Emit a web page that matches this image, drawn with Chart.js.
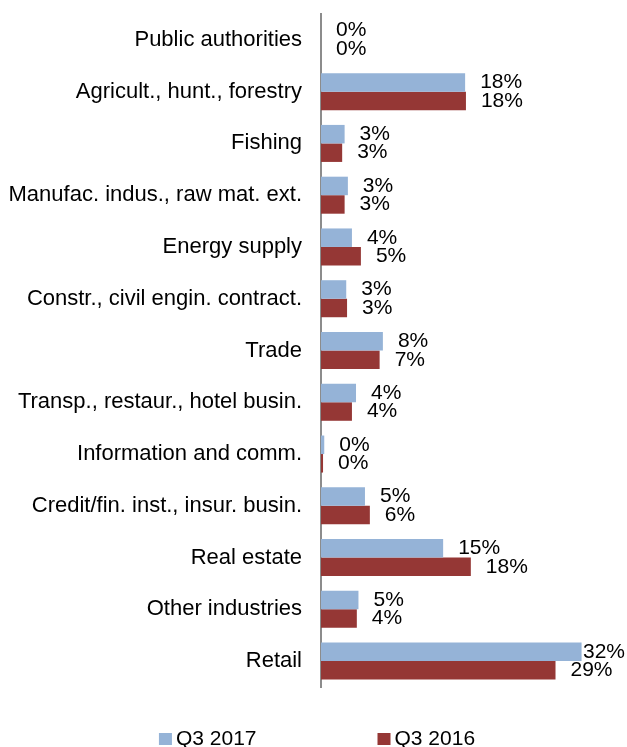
<!DOCTYPE html>
<html lang="en">
<head>
  <meta charset="UTF-8" />
  <title>Industries Q3 2017 vs Q3 2016</title>
  <script src="https://cdn.jsdelivr.net/npm/chart.js"></script>
  <style>
    body {
      margin: 0;
      background: #fff;
    }
    #container {
      width: 627px;
      height: 747px;
    }
  </style>
</head>
<body>
  <div id="container">
    <canvas id="grafica"></canvas>
  </div>

  <script>
    const categorias = [
      "Public authorities",
      "Agricult., hunt., forestry",
      "Fishing",
      "Manufac. indus., raw mat. ext.",
      "Energy supply",
      "Constr., civil engin. contract.",
      "Trade",
      "Transp., restaur., hotel busin.",
      "Information and comm.",
      "Credit/fin. inst., insur. busin.",
      "Real estate",
      "Other industries",
      "Retail"
    ];
    const q3_2017 = [0, 17.7, 2.9, 3.3, 3.8, 3.1, 7.6, 4.3, 0.4, 5.4, 15.0, 4.6, 32.0];
    const q3_2016 = [0, 17.8, 2.6, 2.9, 4.9, 3.2, 7.2, 3.8, 0.25, 6.0, 18.4, 4.4, 28.8];
    const series = ["Q3 2017", "Q3 2016"];
    const colores = ["#95B3D7", "#953735"];

    const fuente = '21px "Liberation Sans", Arial, sans-serif';

    // etiquetas de valor al final de cada barra
    const etiquetas = {
      id: 'etiquetas',
      afterDatasetsDraw(chart) {
        const ctx = chart.ctx;
        ctx.save();
        ctx.font = fuente;
        ctx.fillStyle = '#000';
        ctx.textBaseline = 'middle';
        ctx.textAlign = 'left';
        chart.data.datasets.forEach((ds, i) => {
          chart.getDatasetMeta(i).data.forEach((bar, j) => {
            const txt = Math.round(ds.data[j]) + '%';
            const w = ctx.measureText(txt).width;
            const x = Math.min(bar.x + 15, chart.width - 2 - w);
            ctx.fillText(txt, x, bar.y);
          });
        });
        ctx.restore();
      }
    };

    // leyenda abajo, items separados
    const leyenda = {
      id: 'leyenda',
      afterDraw(chart) {
        const ctx = chart.ctx;
        ctx.save();
        ctx.font = fuente;
        ctx.textBaseline = 'middle';
        ctx.textAlign = 'left';
        const caja = 13, sep = 4, hueco = 121;
        const anchos = series.map(s => caja + sep + ctx.measureText(s).width);
        const total = anchos.reduce((a, b) => a + b, 0) + hueco;
        let x = 317 - total / 2;
        const y = 739;
        series.forEach((s, i) => {
          ctx.fillStyle = colores[i];
          ctx.fillRect(x, y - 6, caja, 12);
          ctx.fillStyle = '#000';
          ctx.fillText(s, x + caja + sep, y);
          x += anchos[i] + hueco;
        });
        ctx.restore();
      }
    };

    const ctx = document.getElementById("grafica").getContext("2d");
    new Chart(ctx, {
      type: 'bar',
      data: {
        labels: categorias,
        datasets: [
          { label: series[0], data: q3_2017, backgroundColor: colores[0] },
          { label: series[1], data: q3_2016, backgroundColor: colores[1] }
        ]
      },
      options: {
        indexAxis: 'y',
        responsive: true,
        maintainAspectRatio: false,
        animation: false,
        datasets: {
          bar: { categoryPercentage: 0.715, barPercentage: 1.0 }
        },
        layout: {
          padding: { top: 14, bottom: 60, left: 0, right: 21 }
        },
        scales: {
          x: {
            display: false,
            min: 0,
            max: 35
          },
          y: {
            afterFit(scale) {
              scale.width = 321;
              scale.paddingTop = 0;
              scale.paddingBottom = 0;
            },
            grid: { display: false, drawTicks: false },
            border: { display: true, color: '#8c8c8c', width: 2 },
            ticks: {
              padding: 19,
              color: '#000',
              font: { family: '"Liberation Sans", Arial, sans-serif', size: 22 }
            }
          }
        },
        plugins: {
          legend: { display: false },
          tooltip: { enabled: false }
        }
      },
      plugins: [etiquetas, leyenda]
    });
  </script>
</body>
</html>
